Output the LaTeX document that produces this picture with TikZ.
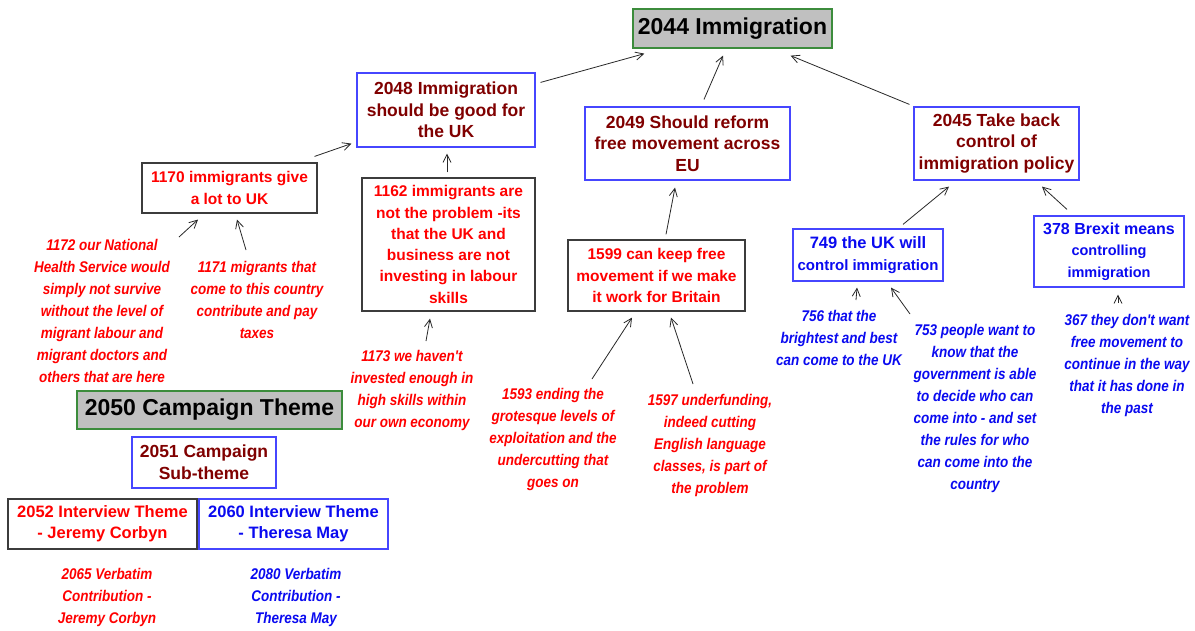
\documentclass[tikz,border=0pt]{standalone}
\usepackage{fontspec}
\setmainfont{Liberation Sans}
\newfontfamily\narrowfont[FakeStretch=0.87]{Liberation Sans}
\usetikzlibrary{arrows.meta,calc}
\definecolor{darkred}{RGB}{128,0,0}
\definecolor{txtred}{RGB}{255,0,0}
\definecolor{txtblue}{RGB}{10,10,240}
\definecolor{boxblue}{RGB}{70,70,255}
\definecolor{boxgray}{RGB}{60,60,60}
\definecolor{themegray}{RGB}{192,192,192}
\definecolor{themegreen}{RGB}{60,140,60}
\definecolor{arrowgray}{RGB}{40,40,40}
\begin{document}
\begin{tikzpicture}[x=1pt,y=-1pt,
  sz/.style 2 args={minimum width=#1pt, minimum height=#2pt},
  themebox/.style={draw=themegreen, fill=themegray, line width=1.3pt, inner sep=0pt, text=black,
     font=\fontsize{23}{26}\selectfont\bfseries},
  mainbox/.style={draw=boxblue, line width=1.2pt, inner sep=0pt, align=center, text=darkred,
     font=\fontsize{17.5}{21.7}\selectfont\bfseries},
  redbox/.style={draw=boxgray, line width=1.2pt, inner sep=0pt, align=center, text=txtred,
     font=\fontsize{15.5}{21.3}\selectfont\bfseries},
  bluebox/.style={draw=boxblue, line width=1.2pt, inner sep=0pt, align=center, text=txtblue,
     font=\fontsize{15.5}{21.3}\selectfont\bfseries},
  redtext/.style={inner sep=0pt, align=center, text=txtred,
     font=\narrowfont\fontsize{15.5}{22}\selectfont\bfseries\itshape},
  bluetext/.style={redtext, text=txtblue},
  conn/.style={draw=arrowgray, line width=0.8pt, -{Straight Barb[length=8pt,width=8pt]}}
]
\useasboundingbox (0,0) rectangle (1195,630);
\fill[white] (0,0) rectangle (1195,630);

% boxes
\node[themebox, sz={199}{39}] (n2044) at (732.5,28.5) {2044 Immigration};
\node[mainbox, sz={178}{74}] (n2048) at (446,110) {2048 Immigration\\should be good for\\the UK};
\node[mainbox, sz={205}{73}] (n2049) at (687.5,143.5) {2049 Should reform\\free movement across\\EU};
\node[mainbox, sz={165}{73}] (n2045) at (996.5,143.5) {2045 Take back\\control of\\immigration policy};
\node[redbox, sz={175}{50}] (n1170) at (229.5,188) {1170 immigrants give\\a lot to UK};
\node[redbox, sz={173}{133}] (n1162) at (448.5,244.5) {1162 immigrants are\\not the problem -its\\that the UK and\\business are not\\investing in labour\\skills};
\node[redbox, sz={177}{71}] (n1599) at (656.5,275.5) {1599 can keep free\\movement if we make\\it work for Britain};
\node[bluebox, sz={150}{52}] (n749) at (868,255) {{\fontsize{16.5}{21}\selectfont 749 the UK will}\\{\fontsize{15}{21}\selectfont control immigration}};
\node[bluebox, sz={150}{71}] (n378) at (1109,251.5) {{\fontsize{16}{21}\selectfont 378 Brexit means}\\{\fontsize{14.5}{21}\selectfont controlling}\\{\fontsize{14.5}{21}\selectfont immigration}};
\node[themebox, sz={265}{38}] (n2050) at (209.5,410) {2050 Campaign Theme};
\node[mainbox, sz={144}{51}] (n2051) at (204,462.5) {2051 Campaign\\Sub-theme};
\node[redbox, sz={189}{50}, font=\fontsize{16.5}{21}\selectfont\bfseries] (n2052) at (102.5,524) {2052 Interview Theme\\- Jeremy Corbyn};
\node[bluebox, sz={189}{50}, font=\fontsize{16.5}{21}\selectfont\bfseries] (n2060) at (293.5,524) {2060 Interview Theme\\- Theresa May};

% free texts
\node[redtext] (n1172) at (102,311) {1172 our National\\Health Service would\\simply not survive\\without the level of\\migrant labour and\\migrant doctors and\\others that are here};
\node[redtext] (n1171) at (257,300) {1171 migrants that\\come to this country\\contribute and pay\\taxes};
\node[redtext] (n1173) at (412,390) {1173 we haven't\\invested enough in\\high skills within\\our own economy};
\node[redtext] (n1593) at (553,439.5) {1593 ending the\\grotesque levels of\\exploitation and the\\undercutting that\\goes on};
\node[redtext] (n1597) at (710,445) {1597 underfunding,\\indeed cutting\\English language\\classes, is part of\\the problem};
\node[bluetext] (n756) at (839,337.5) {756 that the\\brightest and best\\can come to the UK};
\node[bluetext] (n753) at (975,408) {753 people want to\\know that the\\government is able\\to decide who can\\come into - and set\\the rules for who\\can come into the\\country};
\node[bluetext] (n367) at (1127,365.5) {367 they don't want\\free movement to\\continue in the way\\that it has done in\\the past};
\node[redtext] (n2065) at (107,597) {2065 Verbatim\\Contribution -\\Jeremy Corbyn};
\node[bluetext] (n2080) at (296,597) {2080 Verbatim\\Contribution -\\Theresa May};

% connectors
\draw[conn] ($(n2048.north east)+(5,10)$) -- ($(n2044.south west)+(12,5)$);
\draw[conn] ($(n2049.north)+(16.5,-7)$) -- ($(n2044.south)+(-9.5,7)$);
\draw[conn] ($(n2045.north west)+(-4,-2)$) -- ($(n2044.south east)+(-42,7)$);
\draw[conn] ($(n1170.north east)+(-3,-6)$) -- ($(n2048.south west)+(-5,-4)$);
\draw[conn] ($(n1162.north)+(-1.5,-5)$) -- ($(n2048.south)+(1,6)$);
\draw[conn] ($(n1172.center)+(77,-74)$) -- ($(n1170.south)+(-31.5,6)$);
\draw[conn] ($(n1171.center)+(-11,-50)$) -- ($(n1170.south)+(7.5,6)$);
\draw[conn] ($(n1173.center)+(14,-49)$) -- ($(n1162.south)+(-18.5,7)$);
\draw[conn] ($(n1599.north)+(9.5,-5)$) -- ($(n2049.south)+(-12.5,7)$);
\draw[conn] ($(n1593.center)+(39,-60.5)$) -- ($(n1599.south)+(-24.5,6)$);
\draw[conn] ($(n1597.center)+(-17,-61)$) -- ($(n1599.south)+(14.5,6)$);
\draw[conn] ($(n749.north)+(35,-4)$) -- ($(n2045.south)+(-47.5,6)$);
\draw[conn] ($(n378.north)+(-42,-6)$) -- ($(n2045.south)+(45.5,6)$);
\draw[conn] ($(n756.center)+(17,-37.5)$) -- ($(n749.south)+(-11,6)$);
\draw[conn] ($(n753.center)+(-65,-94)$) -- ($(n749.south)+(23,6)$);
\draw[conn] ($(n367.center)+(-9,-62.5)$) -- ($(n378.south)+(9,7)$);
\end{tikzpicture}
\end{document}
